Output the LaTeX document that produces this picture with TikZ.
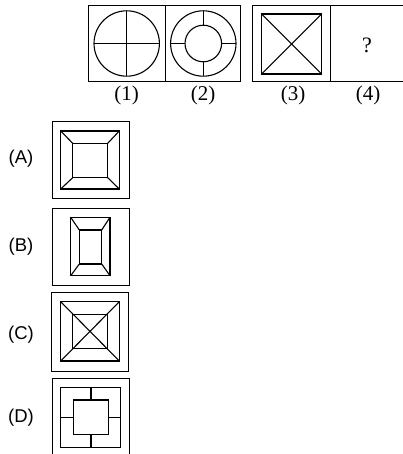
\documentclass[tikz,border=0pt]{standalone}
\usepackage{fontspec}
\setmainfont{Liberation Serif}
\newfontfamily\optfont{Liberation Sans}
\begin{document}
\begin{tikzpicture}[x=1pt,y=-1pt,
  fig/.style={line width=1.1pt,black},
  thin/.style={line width=1pt,black},
  numlab/.style={font=\fontsize{21}{21}\selectfont,inner sep=0pt},
  optlab/.style={font=\optfont\fontsize{18.5}{18.5}\selectfont,inner sep=0pt}]
\useasboundingbox (0,0) rectangle (403,454);
\clip (0,0) rectangle (403,454);
\fill[white] (0,0) rectangle (403,454);
% top left frame
\draw[thin] (88.3,6) rectangle (240,82);
\draw[thin] (165.7,6) -- (165.7,82);
% figure 1
\draw[fig] (126.7,43.5) circle (32.7);
\draw[fig] (94,43.5) -- (159.4,43.5);
\draw[fig] (126.7,10.8) -- (126.7,76.2);
% figure 2
\draw[fig] (203.3,43.5) circle (32.7);
\draw[fig] (203.3,43.5) circle (18.3);
\draw[fig] (170.6,43.5) -- (185,43.5);
\draw[fig] (221.6,43.5) -- (236,43.5);
\draw[fig] (203.3,10.8) -- (203.3,25.2);
\draw[fig] (203.3,61.8) -- (203.3,76.2);
% top right frame
\draw[thin] (252.7,6) rectangle (410,82);
\draw[thin] (330,6) -- (330,82);
% figure 3
\draw[fig] (261.7,14) rectangle (321.7,74);
\draw[fig] (261.7,14) -- (321.7,74);
\draw[fig] (321.7,14) -- (261.7,74);
\node[numlab,font=\fontsize{22}{22}\selectfont] (q) at (367,45) {?};
% numbers
\node[numlab] (n1) at (126.5,95.5) {(1)};
\node[numlab] (n2) at (203,95.5) {(2)};
\node[numlab] (n3) at (293,95.5) {(3)};
\node[numlab] (n4) at (368,95.5) {(4)};
% option A
\node[optlab] (la) at (21,159) {(A)};
\draw[thin] (52,121.7) rectangle (129.3,198.3);
\draw[fig] (60.7,131) rectangle (119.3,189);
\draw[fig] (72.7,143.3) rectangle (107.7,177.7);
\draw[fig] (60.7,131) -- (72.7,143.3);
\draw[fig] (119.3,131) -- (107.7,143.3);
\draw[fig] (60.7,189) -- (72.7,177.7);
\draw[fig] (119.3,189) -- (107.7,177.7);
% option B
\node[optlab] (lb) at (21,246.5) {(B)};
\draw[thin] (52.3,208.3) rectangle (129,285);
\draw[fig] (70.7,217.3) rectangle (110,275.7);
\draw[fig] (79.3,230) rectangle (101.7,264);
\draw[fig] (70.7,217.3) -- (79.3,230);
\draw[fig] (110,217.3) -- (101.7,230);
\draw[fig] (70.7,275.7) -- (79.3,264);
\draw[fig] (110,275.7) -- (101.7,264);
% option C
\node[optlab] (lc) at (21,335) {(C)};
\draw[thin] (51,292.3) rectangle (128.3,371);
\draw[fig] (60.7,301.7) rectangle (119.3,361);
\draw[fig] (72.3,314.3) rectangle (107.7,348.3);
\draw[fig] (60.7,301.7) -- (119.3,361);
\draw[fig] (119.3,301.7) -- (60.7,361);
% option D
\node[optlab] (ld) at (21,418) {(D)};
\draw[thin] (52.3,378.3) rectangle (129.3,460);
\draw[fig] (60.7,387.3) rectangle (120.7,447.3);
\draw[fig] (73.3,400) rectangle (108.3,434.3);
\draw[fig] (91,387.3) -- (91,400);
\draw[fig] (91,434.3) -- (91,447.3);
\draw[fig] (60.7,417.3) -- (73.3,417.3);
\draw[fig] (108.3,417.3) -- (120.7,417.3);
\end{tikzpicture}
\end{document}
